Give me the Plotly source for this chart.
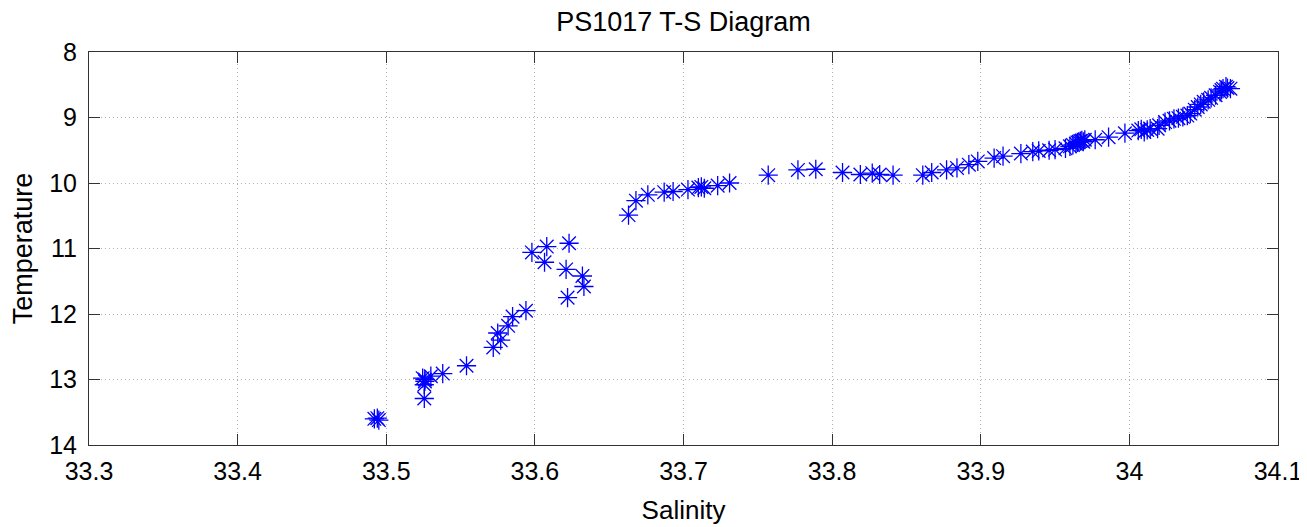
import plotly.graph_objects as go

salinity = [
    33.492, 33.495, 33.494, 33.5245, 33.526, 33.526, 33.5256, 33.5256, 33.530, 33.538,
    33.554, 33.572, 33.577, 33.575, 33.582, 33.585, 33.594, 33.598, 33.6065, 33.608,
    33.623, 33.621, 33.632, 33.633, 33.622, 33.663, 33.668, 33.676, 33.687, 33.693,
    33.703, 33.710, 33.712, 33.714, 33.723, 33.731, 33.757, 33.777, 33.789, 33.807,
    33.819, 33.827, 33.832, 33.841, 33.861, 33.867, 33.877, 33.884, 33.892, 33.898,
    33.909, 33.915, 33.927, 33.935, 33.939, 33.946, 33.950, 33.957, 33.960, 33.962,
    33.964, 33.965, 33.966, 33.967, 33.968, 33.969, 33.970, 33.977, 33.986, 33.997,
    34.006, 34.008, 34.010, 34.012, 34.014, 34.019, 34.020, 34.024, 34.027, 34.030,
    34.033, 34.036, 34.039, 34.041, 34.044, 34.046, 34.048, 34.050, 34.053, 34.055,
    34.058, 34.061, 34.062, 34.063, 34.065, 34.066, 34.068,
]
temperature = [
    13.60, 13.62, 13.59, 12.98, 13.00, 13.03, 13.08, 13.29, 12.95, 12.91,
    12.79, 12.51, 12.40, 12.29, 12.18, 12.04, 11.95, 11.06, 11.21, 10.97,
    10.92, 11.32, 11.42, 11.58, 11.75, 10.49, 10.27, 10.18, 10.14, 10.13,
    10.10, 10.07, 10.06, 10.08, 10.04, 10.00, 9.88, 9.80, 9.79, 9.84,
    9.87, 9.85, 9.87, 9.88, 9.88, 9.84, 9.80, 9.77, 9.72, 9.67,
    9.62, 9.59, 9.55, 9.52, 9.51, 9.50, 9.49, 9.47, 9.44, 9.42,
    9.40, 9.38, 9.37, 9.36, 9.35, 9.37, 9.34, 9.34, 9.30, 9.24,
    9.20, 9.18, 9.22, 9.19, 9.17, 9.17, 9.12, 9.07, 9.05, 9.02,
    9.01, 8.99, 8.97, 8.94, 8.88, 8.84, 8.80, 8.76, 8.73, 8.70,
    8.66, 8.61, 8.58, 8.56, 8.53, 8.55, 8.56,
]

x_ticks = [33.3, 33.4, 33.5, 33.6, 33.7, 33.8, 33.9, 34.0, 34.1]
x_tick_labels = ["33.3", "33.4", "33.5", "33.6", "33.7", "33.8", "33.9", "34", "34.1"]
y_ticks = [8, 9, 10, 11, 12, 13, 14]
y_tick_labels = ["8", "9", "10", "11", "12", "13", "14"]

FONT = "Liberation Sans, Arial, Helvetica, sans-serif"

# the page body adds an 8px offset, so the figure is sized to fit inside the window
W, H = 1299, 519

fig = go.Figure()
fig.add_trace(go.Scatter(
    x=salinity, y=temperature, mode="markers",
    marker=dict(symbol="asterisk-open", size=16, color="#0000ff",
                line=dict(color="#0000ff", width=1.3)),
    showlegend=False,
))

axis_common = dict(
    showline=True, linecolor="#333333", linewidth=1, mirror="ticks",
    ticks="inside", ticklen=11, tickcolor="#333333", tickwidth=1,
    showgrid=True, gridcolor="#b0b0b0", griddash="1px,3px", gridwidth=1,
    zeroline=False, automargin=False,
    tickfont=dict(size=25, color="black", family=FONT),
)

fig.update_layout(
    width=W, height=H,
    paper_bgcolor="white", plot_bgcolor="white",
    margin=dict(l=81, r=29, t=44, b=82),
    font=dict(family=FONT, color="black"),
    title=dict(text="PS1017 T-S Diagram", x=0.5, xref="paper", xanchor="center",
               y=1 - 14 / H, yref="container", yanchor="middle",
               font=dict(size=27, color="black", family=FONT)),
    xaxis=dict(range=[33.3, 34.1], tickvals=x_ticks, ticktext=x_tick_labels,
               ticklabelstandoff=4,
               title=dict(text="Salinity", font=dict(size=26, color="black", family=FONT), standoff=16),
               **axis_common),
    yaxis=dict(range=[14, 8], tickvals=y_ticks, ticktext=y_tick_labels,
               ticklabelstandoff=6,
               title=dict(text="Temperature", font=dict(size=27, color="black", family=FONT), standoff=10),
               **axis_common),
)

fig.write_html("out.html")
